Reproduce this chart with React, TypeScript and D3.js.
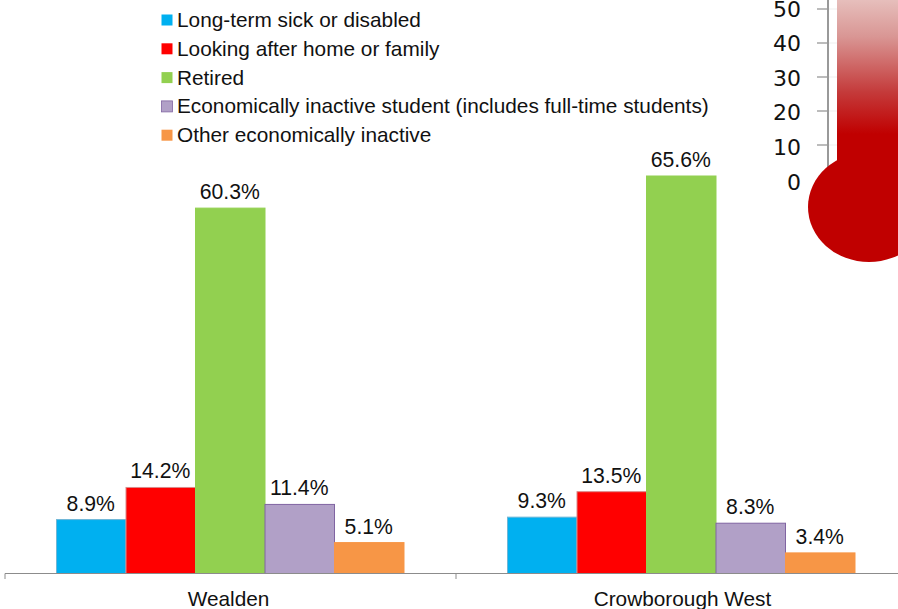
import React from "react";
import * as d3 from "d3";

const width = 898;
const height = 609;
const categories = ["Wealden", "Crowborough West"];
const seriesNames = [
  "Long-term sick or disabled",
  "Looking after home or family",
  "Retired",
  "Economically inactive student (includes full-time students)",
  "Other economically inactive",
];
const wealdenValues = [8.9, 14.2, 60.3, 11.4, 5.1];
const crowboroughValues = [9.3, 13.5, 65.6, 8.3, 3.4];
const fills = ["#00b0f0", "#ff0000", "#92d050", "#b1a0c7", "#f79646"];
const strokes = ["#6fb6d6", "#d98a8a", "#92d050", "#8064a2", "#f79646"];
const thermoTicks = [0, 10, 20, 30, 40, 50];

const FONT = '"Liberation Sans", Arial, sans-serif';

export default function App() {
  const x0 = d3.scaleBand<string>().domain(categories).range([5, 907]);
  const barW = 69.5;
  const offset = 51.5;
  const y = d3.scaleLinear().domain([0, 65.6]).range([573.5, 176]);
  const ty = d3.scaleLinear().domain([0, 50]).range([179, 9]);
  const labelY = d3.scaleLinear().domain([0, 50]).range([189.5, 16.5]);
  const rows = [wealdenValues, crowboroughValues];
  const catNudge = [-2, 1];

  return (
    <svg
      width={width}
      height={height}
      viewBox={`0 0 ${width} ${height}`}
      style={{ position: "absolute", left: 0, top: 0, display: "block", background: "#fff" }}
    >
      <defs>
        <linearGradient id="mercury" gradientUnits="userSpaceOnUse" x1="0" y1="-5" x2="0" y2="134">
          <stop offset="0" stopColor="#e8c4c1" />
          <stop offset="0.3" stopColor="#d99694" />
          <stop offset="0.7" stopColor="#c43a3a" />
          <stop offset="1" stopColor="#c00000" />
        </linearGradient>
      </defs>

      {/* Legend */}
      {seriesNames.map((name, i) => {
        const cy = 20 + i * 28.8;
        return (
          <g key={name}>
            <rect
              x={161.5}
              y={cy - 5.5}
              width={11}
              height={11}
              fill={fills[i]}
              stroke={i === 3 ? "#8064a2" : "none"}
              strokeWidth={i === 3 ? 0.8 : 0}
            />
            <text x={177} y={cy + 7} fontFamily={FONT} fontSize={20.8} fill="#111">
              {name}
            </text>
          </g>
        );
      })}

      {/* Bars and value labels */}
      {categories.map((cat, c) => (
        <g key={cat}>
          {rows[c].map((v, i) => {
            const bx = (x0(cat) as number) + offset + i * barW;
            return (
              <g key={seriesNames[i]}>
                <rect
                  x={bx}
                  y={y(v)}
                  width={barW}
                  height={y(0) - y(v)}
                  fill={fills[i]}
                  stroke={strokes[i]}
                  strokeWidth={1}
                />
                <text
                  x={bx + barW / 2 - 0.5}
                  y={y(v) - 9}
                  textAnchor="middle"
                  fontFamily={FONT}
                  fontSize={21.2}
                  fill="#111"
                >
                  {v.toFixed(1)}%
                </text>
              </g>
            );
          })}
          <text
            x={(x0(cat) as number) + x0.bandwidth() / 2 + catNudge[c]}
            y={606}
            textAnchor="middle"
            fontFamily={FONT}
            fontSize={20.8}
            fill="#111"
          >
            {cat}
          </text>
        </g>
      ))}

      {/* Category axis */}
      <g stroke="#8c8c8c" strokeWidth={1} fill="none">
        <line x1={5} x2={898} y1={573.5} y2={573.5} />
        <line x1={5} x2={5} y1={573.5} y2={579} />
        <line x1={456} x2={456} y1={573.5} y2={579} />
      </g>

      {/* Thermometer */}
      <g>
        {thermoTicks.map((t) => (
          <g key={t}>
            {t > 0 && <line x1={817} x2={828} y1={ty(t)} y2={ty(t)} stroke="#a6a6a6" strokeWidth={1.5} />}
            {t > 0 && <line x1={828} x2={838} y1={ty(t)} y2={ty(t)} stroke="#efefef" strokeWidth={1} />}
            <text
              x={801}
              y={labelY(t)}
              textAnchor="end"
              fontFamily='"DejaVu Sans", sans-serif'
              fontSize={22}
              fill="#111"
            >
              {t}
            </text>
          </g>
        ))}
        <line x1={828} x2={828} y1={0} y2={170} stroke="#999" strokeWidth={2} />
        <rect x={837} y={-5} width={70} height={180} fill="url(#mercury)" />
        <ellipse cx={869} cy={207} rx={61} ry={55} fill="#c00000" />
      </g>
    </svg>
  );
}
